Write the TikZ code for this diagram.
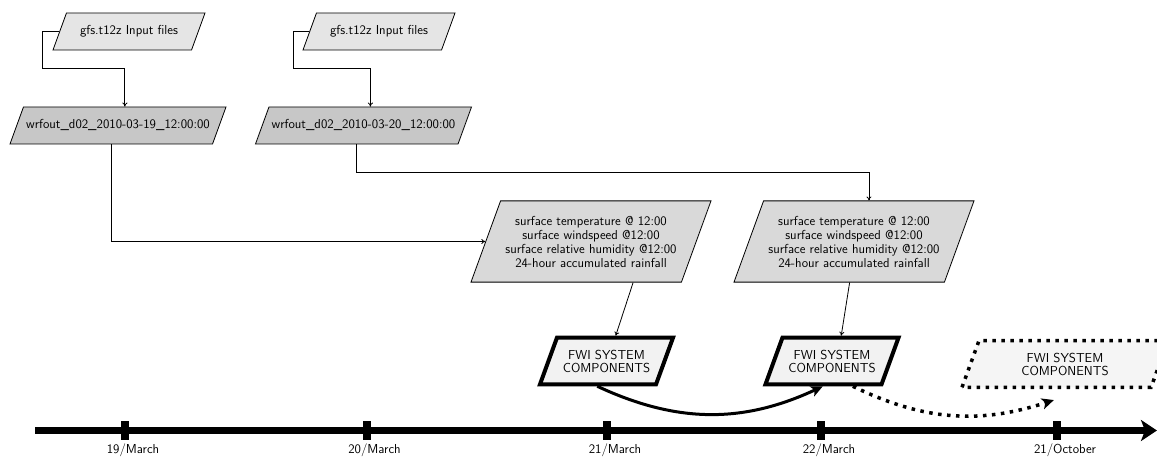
\documentclass[tikz,border=0pt]{standalone}
\usepackage{fontspec}
\usetikzlibrary{shapes.geometric,arrows.meta,calc}
\begin{document}
\begin{tikzpicture}[x=1pt,y=1pt,
  every node/.style={font=\sffamily\fontsize{13}{14}\selectfont},
  para/.style={trapezium, trapezium left angle=70, trapezium right angle=110,
    trapezium stretches body=true, draw, line width=0.8pt, inner xsep=0pt, align=center},
  gfsbox/.style={para, fill=black!10, minimum width=152pt, text height=9.5pt, text depth=3pt, inner ysep=12.25pt},
  wrfbox/.style={para, fill=black!22, minimum width=216pt, text height=9.5pt, text depth=3pt, inner ysep=12.25pt},
  surfbox/.style={para, fill=black!15, minimum width=240pt, inner ysep=15pt},
  fwibox/.style={para, fill=black!5, line width=4pt, minimum width=133pt, inner ysep=12pt,
    font=\sffamily\fontsize{13}{13}\selectfont},
  fwidot/.style={para, fill=black!4, line width=3.5pt, dash pattern=on 3.5pt off 5.5pt,
    minimum width=206pt, inner ysep=12pt, font=\sffamily\fontsize{13}{13}\selectfont},
  thin/.style={line width=0.8pt},
  arr/.style={thin, -{To[length=4pt,width=5pt]}},
  bigarr/.style={line width=3pt, -{Stealth[length=12pt,width=11pt,inset=3pt]}},
  dotarr/.style={line width=3.5pt, dash pattern=on 3.5pt off 5.5pt, -{Stealth[length=12pt,width=11pt,inset=3pt]}},
  tick/.style={line width=8pt},
  datelabel/.style={anchor=base}
]
\useasboundingbox (0,0) rectangle (1157,-457);

% nodes
\node[gfsbox] (g1) at (129,-31.5) {gfs.t12z Input files};
\node[gfsbox] (g2) at (379,-31.5) {gfs.t12z Input files};
\node[wrfbox] (w1) at (118,-125.5) {wrfout\_d02\_2010-03-19\_12:00:00};
\node[wrfbox] (w2) at (363.5,-125.5) {wrfout\_d02\_2010-03-20\_12:00:00};
\node[surfbox] (s1) at (591,-241.5) {surface temperature @ 12:00\\surface windspeed @12:00\\surface relative humidity @12:00\\24-hour accumulated rainfall};
\node[surfbox] (s2) at (854,-241.5) {surface temperature @ 12:00\\surface windspeed @12:00\\surface relative humidity @12:00\\24-hour accumulated rainfall};
\node[fwibox] (f1) at (606.5,-361) {FWI SYSTEM\\COMPONENTS};
\node[fwibox] (f2) at (832,-361) {FWI SYSTEM\\COMPONENTS};
\node[fwidot] (f3) at (1065,-364) {FWI SYSTEM\\COMPONENTS};

% helper coordinates on edges
\coordinate (w1t) at ($(w1.top left corner)!.5!(w1.top right corner)$);
\coordinate (w2t) at ($(w2.top left corner)!.5!(w2.top right corner)$);
\coordinate (w1b) at ($(w1.bottom left corner)!.5!(w1.bottom right corner)$);
\coordinate (w2b) at ($(w2.bottom left corner)!.5!(w2.bottom right corner)$);
\coordinate (s2t) at ($(s2.top left corner)!.5!(s2.top right corner)$);
\coordinate (s1b) at ($(s1.bottom left corner)!.77!(s1.bottom right corner)$);
\coordinate (s2b) at ($(s2.bottom left corner)!.55!(s2.bottom right corner)$);
\coordinate (f1t) at ($(f1.top left corner)!.5!(f1.top right corner)$);
\coordinate (f2t) at ($(f2.top left corner)!.5!(f2.top right corner)$);
\coordinate (f1b) at ($(f1.bottom left corner)!.5!(f1.bottom right corner)$);
\coordinate (f2b) at ($(f2.bottom left corner)!.5!(f2.bottom right corner)$);
\coordinate (f2r) at ($(f2.bottom left corner)!.75!(f2.bottom right corner)$);
\coordinate (f3b) at ($(f3.bottom left corner)!.5!(f3.bottom right corner)+(-2,-11)$);

% connectors
\draw[arr] (g1.west) -- ++(-17,0) |- ($(w1t)+(0,38)$) -- (w1t);
\draw[arr] (g2.west) -- ++(-16,0) |- ($(w2t)+(0,38)$) -- (w2t);
\draw[arr] (w1b) |- (s1.west);
\draw[arr] (w2b) -- ++(0,-28) -| (s2t);
\draw[arr] (s1b) -- (f1t);
\draw[arr] (s2b) -- (f2t);
\draw[bigarr] (f1b) to[bend right=25] (f2b);
\draw[dotarr] (f2r) to[bend right=22] (f3b);

% timeline
\coordinate (tl0) at (35,-430.5);
\coordinate (tl1) at (1157,-430.5);
\draw[line width=7pt, -{Stealth[length=16pt,width=21pt,inset=4pt]}] (tl0) -- (tl1);
\foreach \x in {125, 366.5, 607, 821, 1057}{
  \draw[tick] (\x,-421) -- (\x,-440);
}
\node[datelabel] (d1) at (133,-453) {19/March};
\node[datelabel] (d2) at (374.5,-453) {20/March};
\node[datelabel] (d3) at (615,-453) {21/March};
\node[datelabel] (d4) at (829,-453) {22/March};
\node[datelabel] (d5) at (1065,-453) {21/October};
\end{tikzpicture}
\end{document}
